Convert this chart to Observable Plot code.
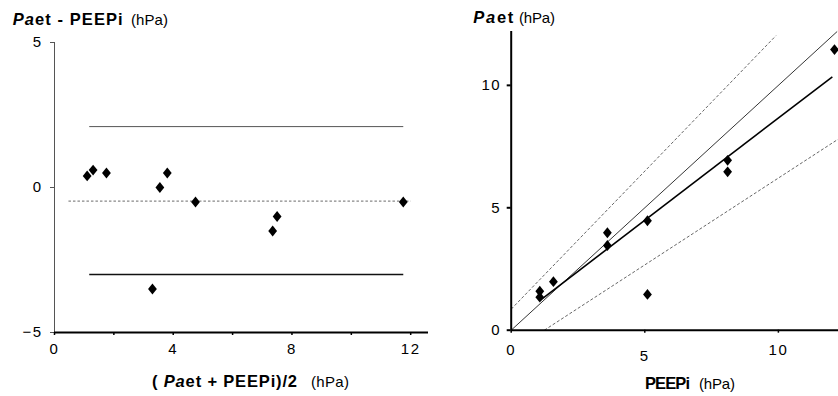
<!DOCTYPE html>
<html><head><meta charset="utf-8">
<script src="https://cdn.jsdelivr.net/npm/d3@7"></script>
<script src="https://cdn.jsdelivr.net/npm/@observablehq/plot@0.6"></script>
<style>
body{margin:0;background:#fff;}
#wrap{position:relative;width:838px;height:396px;overflow:hidden;background:#fff;}
.panel{position:absolute;top:0;}
#overlay{position:absolute;left:0;top:0;pointer-events:none;}
</style></head><body>
<div id="wrap">
  <div id="left" class="panel" style="left:0px"></div>
  <div id="right" class="panel" style="left:420px"></div>
</div>
<script>
// ---- Left panel (Bland–Altman): mean of the two methods vs difference ----
const baMean = [1.1, 1.3, 1.75, 3.55, 3.8, 4.75, 11.75, 3.3, 7.35, 7.5];
const baDiff = [0.4, 0.6, 0.5, 0.0, 0.5, -0.5, -0.5, -3.5, -1.5, -1.0];
const baLineNames = ["upper limit", "mean difference", "lower limit"];
const baLineY = [2.1, -0.47, -3.0];
const baLineX1 = [1.17, 0.47, 1.17];
const baLineX2 = [11.75, 12.0, 11.75];
const baXTicks = [0, 2, 4, 6, 8, 10, 12];
const baXLabels = ["0", "", "4", "", "8", "", "12"];
const baYTicks = [-5, 0, 5];

// ---- Right panel: PEEPi vs Paet ----
const peepi = [12.1, 8.1, 8.1, 3.6, 3.6, 5.1, 5.1, 1.58, 1.07, 1.07];
const paet  = [11.46, 6.94, 6.47, 3.98, 3.46, 4.47, 1.46, 1.98, 1.59, 1.35];
const refNames = ["identity", "regression", "upper band", "lower band"];
const refX1 = [0, 1.07, 0, 1.24];
const refY1 = [0, 1.21, 0.86, 0];
const refX2 = [12.2, 12.02, 9.91, 12.25];
const refY2 = [12.2, 10.35, 12.03, 7.81];
const rXTicks = [0, 5, 10];
const rYTicks = [0, 5, 10];

const ba = baMean.map((m, i) => ({m, d: baDiff[i]}));
const baLines = baLineNames.map((n, i) => ({n, y: baLineY[i], x1: baLineX1[i], x2: baLineX2[i]}));
const pts = peepi.map((x, i) => ({x, y: paet[i]}));
const refs = refNames.map((n, i) => ({n, x1: refX1[i], y1: refY1[i], x2: refX2[i], y2: refY2[i]}));

const rhombus = {draw(ctx) { const w = 4.4, h = 5.4; ctx.moveTo(0, -h); ctx.lineTo(w, 0); ctx.lineTo(0, h); ctx.lineTo(-w, 0); ctx.closePath(); }};
const font = "'Liberation Sans', Arial, sans-serif";

const left = Plot.plot({
  width: 432, height: 396,
  marginLeft: 54, marginRight: 4, marginTop: 42, marginBottom: 64,
  x: {domain: [0, 12.6]},
  y: {domain: [-5, 5]},
  style: {background: "transparent", fontFamily: font, fontSize: "15px", color: "#000", overflow: "visible"},
  marks: [
    Plot.ruleX([0], {stroke: "#555", strokeWidth: 1}),
    Plot.axisY({ticks: baYTicks, tickSize: 4, tickPadding: 8, label: null, stroke: "#555"}),
    Plot.ruleY([-5], {stroke: "#000", strokeWidth: 2}),
    Plot.axisX({ticks: baXTicks, tickFormat: (d, i) => baXLabels[i], tickSize: 3, tickPadding: 8, label: null, strokeWidth: 1.5}),
    Plot.link(baLines.filter(d => d.n !== "mean difference"), {x1: "x1", x2: "x2", y1: "y", y2: "y",
      stroke: d => d.n === "upper limit" ? "#555" : "#111", strokeWidth: d => d.n === "upper limit" ? 1 : 1.3}),
    Plot.link(baLines.filter(d => d.n === "mean difference"), {x1: "x1", x2: "x2", y1: "y", y2: "y",
      stroke: "#888", strokeWidth: 1.2, strokeDasharray: "2.5,2"}),
    Plot.dot(ba, {x: "m", y: "d", symbol: rhombus, fill: "#000", stroke: "none"})
  ]
});

const right = Plot.plot({
  width: 418, height: 396,
  marginLeft: 90.7, marginRight: 0, marginTop: 31, marginBottom: 66.3,
  x: {domain: [0, 12.25]},
  y: {domain: [0, 12.2]},
  style: {background: "transparent", fontFamily: font, fontSize: "15px", color: "#000", overflow: "visible"},
  marks: [
    Plot.link(refs.filter(d => d.n === "identity"), {x1: "x1", y1: "y1", x2: "x2", y2: "y2", stroke: "#000", strokeWidth: 0.8}),
    Plot.link(refs.filter(d => d.n === "regression"), {x1: "x1", y1: "y1", x2: "x2", y2: "y2", stroke: "#000", strokeWidth: 1.6}),
    Plot.link(refs.filter(d => d.n.endsWith("band")), {x1: "x1", y1: "y1", x2: "x2", y2: "y2", stroke: "#555", strokeWidth: 0.9, strokeDasharray: "3,2"}),
    Plot.ruleX([0], {stroke: "#000", strokeWidth: 2}),
    Plot.ruleY([0], {stroke: "#000", strokeWidth: 2}),
    Plot.axisY({ticks: rYTicks, tickSize: 4, tickPadding: 6, label: null, strokeWidth: 2}),
    Plot.axisX({ticks: rXTicks.filter(t => t !== 5), tickSize: 3, tickPadding: 11, label: null, strokeWidth: 1.5}),
    Plot.axisX({ticks: rXTicks.filter(t => t === 5), tickSize: 3, tickPadding: 17, label: null, strokeWidth: 1.5}),
    Plot.dot(pts, {x: "x", y: "y", symbol: rhombus, fill: "#000", stroke: "none"})
  ]
});

for (const svg of [left, right]) {
  d3.select(svg).selectAll("text").attr("letter-spacing", "1.5px");
}
document.getElementById("left").appendChild(left);
document.getElementById("right").appendChild(right);

// ---- Titles and axis titles (real text) ----
const ov = d3.select("#wrap").append("svg").attr("id", "overlay").attr("width", 838).attr("height", 396)
  .style("font-family", font);
function label(x, y, len, parts, size, bold) {
  const t = ov.append("text").attr("x", x).attr("y", y).attr("font-size", size)
    .attr("font-weight", bold ? "bold" : "normal").attr("textLength", len).attr("lengthAdjust", "spacing");
  for (const p of parts) {
    t.append("tspan").text(p.t).attr("font-style", p.italic ? "italic" : "normal");
  }
}
label(12.7, 25, 110, [{t: "Pa", italic: 1}, {t: "et - PEEPi"}], 16.5, true);
label(131, 25, 37, [{t: "(hPa)"}], 15, false);
label(152, 387, 145, [{t: "( "}, {t: "Pa", italic: 1}, {t: "et + PEEPi)/2"}], 16.5, true);
label(311, 387, 38, [{t: "(hPa)"}], 15, false);
label(473.3, 23.3, 40, [{t: "Pa", italic: 1}, {t: "et"}], 16.5, true);
label(519, 23.3, 36, [{t: "(hPa)"}], 15, false);
label(645, 389, 45, [{t: "PEEPi"}], 16.5, true);
label(699, 389, 36, [{t: "(hPa)"}], 15, false);
</script>
</body></html>
